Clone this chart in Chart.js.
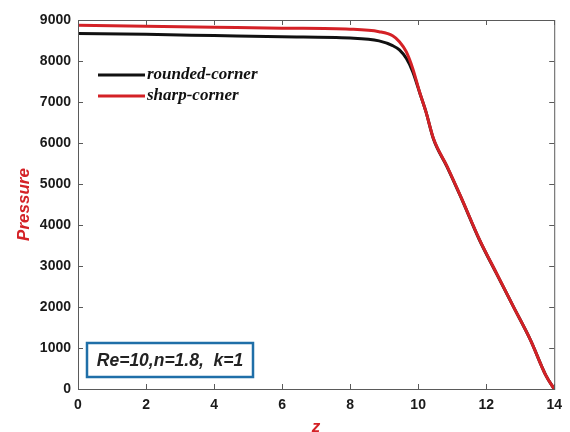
<!DOCTYPE html>
<html>
<head>
<meta charset="utf-8">
<script src="https://cdn.jsdelivr.net/npm/chart.js@4/dist/chart.umd.min.js"></script>
<style>
  body { margin: 0; background: #fff; }
  #wrap { width: 570px; height: 432px; position: relative; }
</style>
</head>
<body>
<div id="wrap"><canvas id="chart"></canvas></div>
<script>
// z positions and pressure values
const zRounded = [0, 2, 4, 6, 8, 8.85, 9.25, 9.45, 9.65, 9.84, 10.04, 10.23, 10.45, 10.85, 11.25, 11.8, 12.3, 12.8, 13.3, 13.75, 14];
const pRounded = [8670, 8650, 8620, 8590, 8560, 8490, 8375, 8270, 8065, 7740, 7240, 6760, 6100, 5420, 4690, 3640, 2820, 2010, 1200, 340, 0];

const zSharp = [0, 2, 4, 6, 8, 8.85, 9.25, 9.45, 9.65, 9.84, 10.04, 10.23, 10.45, 10.85, 11.25, 11.8, 12.3, 12.8, 13.3, 13.75, 14];
const pSharp = [8875, 8850, 8825, 8800, 8775, 8715, 8617, 8471, 8227, 7820, 7250, 6760, 6110, 5430, 4700, 3650, 2830, 2010, 1200, 340, 0];

const xTicks = [0, 2, 4, 6, 8, 10, 12, 14];
const yTicks = [0, 1000, 2000, 3000, 4000, 5000, 6000, 7000, 8000, 9000];

const seriesLabels = ['rounded-corner', 'sharp-corner'];
const seriesColors = ['#111111', '#d42126'];
const noteText = 'Re=10,n=1.8,  k=1';

const tickFont = { family: '"Liberation Sans", Arial, sans-serif', size: 14, weight: 700 };
const titleFont = { family: '"Liberation Sans", Arial, sans-serif', size: 17, weight: 700, style: 'italic' };

function toPoints(xs, ys) {
    return xs.map((x, i) => ({ x: x, y: ys[i] }));
}

// frame, inward ticks, legend and the parameter box
const decorations = {
    id: 'decorations',
    afterDraw(chart) {
        const ctx = chart.ctx;
        const a = chart.chartArea;
        const xs = chart.scales.x;
        const ys = chart.scales.y;
        ctx.save();
        ctx.strokeStyle = '#5a5a5a';
        ctx.lineWidth = 1;
        ctx.strokeRect(a.left + 0.5, a.top + 0.5, a.right - a.left, a.bottom - a.top);
        ctx.beginPath();
        xs.ticks.forEach(t => {
            const px = Math.round(xs.getPixelForValue(t.value)) + 0.5;
            ctx.moveTo(px, a.bottom); ctx.lineTo(px, a.bottom - 5);
            ctx.moveTo(px, a.top); ctx.lineTo(px, a.top + 5);
        });
        ys.ticks.forEach(t => {
            const py = Math.round(ys.getPixelForValue(t.value)) + 0.5;
            ctx.moveTo(a.left, py); ctx.lineTo(a.left + 5, py);
            ctx.moveTo(a.right, py); ctx.lineTo(a.right - 5, py);
        });
        ctx.stroke();

        // legend
        ctx.font = 'bold italic 17px "Liberation Serif", "DejaVu Serif", serif';
        ctx.textBaseline = 'middle';
        chart.data.datasets.forEach((ds, i) => {
            const y = a.top + 55 + i * 21;
            ctx.strokeStyle = ds.borderColor;
            ctx.lineWidth = 3;
            ctx.beginPath();
            ctx.moveTo(a.left + 20, y);
            ctx.lineTo(a.left + 67, y);
            ctx.stroke();
            ctx.fillStyle = '#111';
            ctx.fillText(ds.label, a.left + 69, y);
        });

        // parameter box
        const bx = a.left + 9, by = a.bottom - 46, bw = 166, bh = 34;
        ctx.fillStyle = '#fff';
        ctx.fillRect(bx, by, bw, bh);
        ctx.strokeStyle = '#1f6fa8';
        ctx.lineWidth = 2.5;
        ctx.strokeRect(bx, by, bw, bh);
        ctx.fillStyle = '#222';
        ctx.font = 'bold italic 17.5px "Liberation Sans", Arial, sans-serif';
        ctx.textAlign = 'center';
        ctx.fillText(noteText, bx + bw / 2, by + bh / 2 + 1);
        ctx.restore();
    }
};

window.addEventListener('load', () => {
    const ctx = document.getElementById('chart').getContext('2d');
    new Chart(ctx, {
        type: 'line',
        data: {
            datasets: [
                {
                    label: seriesLabels[0],
                    data: toPoints(zRounded, pRounded),
                    borderColor: seriesColors[0],
                    borderWidth: 3,
                    pointRadius: 0,
                    cubicInterpolationMode: 'monotone',
                    order: 1
                },
                {
                    label: seriesLabels[1],
                    data: toPoints(zSharp, pSharp),
                    borderColor: seriesColors[1],
                    borderWidth: 3,
                    pointRadius: 0,
                    cubicInterpolationMode: 'monotone',
                    order: 0
                }
            ]
        },
        options: {
            responsive: true,
            maintainAspectRatio: false,
            animation: false,
            layout: { padding: { top: 20, right: 15, left: 0, bottom: 0 } },
            plugins: {
                legend: { display: false },
                tooltip: { enabled: false }
            },
            scales: {
                x: {
                    type: 'linear',
                    min: 0, max: 14,
                    afterBuildTicks: s => { s.ticks = xTicks.map(v => ({ value: v })); },
                    afterFit: s => { s.height = 43; },
                    grid: { display: false, drawTicks: false },
                    border: { display: false },
                    ticks: {
                        color: '#1a1a1a',
                        padding: 8,
                        font: tickFont,
                        callback: v => String(v)
                    },
                    title: {
                        display: true,
                        text: 'z',
                        color: '#d42126',
                        padding: { top: 0, bottom: -6 },
                        font: titleFont
                    }
                },
                y: {
                    type: 'linear',
                    min: 0, max: 9000,
                    afterBuildTicks: s => { s.ticks = yTicks.map(v => ({ value: v })); },
                    afterFit: s => { s.width = 78; },
                    grid: { display: false, drawTicks: false },
                    border: { display: false },
                    ticks: {
                        color: '#1a1a1a',
                        padding: 7,
                        font: tickFont,
                        callback: v => String(v)
                    },
                    title: {
                        display: true,
                        text: 'Pressure',
                        color: '#d42126',
                        padding: { top: 14, bottom: 2 },
                        font: titleFont
                    }
                }
            }
        },
        plugins: [decorations]
    });
});
</script>
</body>
</html>
